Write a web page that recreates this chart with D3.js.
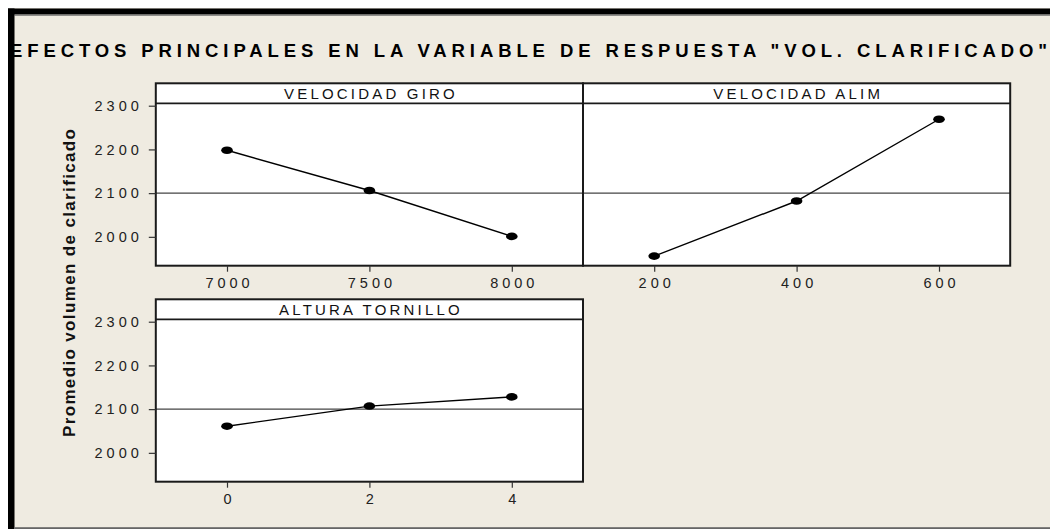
<!DOCTYPE html>
<html><head><meta charset="utf-8">
<script src="https://cdn.jsdelivr.net/npm/d3@7"></script>
<style>
html,body{margin:0;padding:0;background:#fff;}
svg{display:block;}
</style></head>
<body>
<svg id="chart" width="1050" height="529"></svg>
<script>
// ---------- DATA ----------
const chartTitle = 'EFECTOS PRINCIPALES EN LA VARIABLE DE RESPUESTA "VOL. CLARIFICADO"';
const yLabel = "Promedio volumen de clarificado";
const factorNames = ["VELOCIDAD GIRO", "VELOCIDAD ALIM", "ALTURA TORNILLO"];
const levelsGiro = [7000, 7500, 8000];
const meansGiro = [2198, 2106, 2001];
const levelsAlim = [200, 400, 600];
const meansAlim = [1956, 2082, 2269];
const levelsAltura = [0, 2, 4];
const meansAltura = [2061, 2107, 2128];
const xDomains = [[6750, 8250], [100, 700], [-1, 5]];
const yTicks = [2000, 2100, 2200, 2300];
const yDomain = [1934, 2305.5];
const grandMean = 2100;

// ---------- LAYOUT ----------
const svg = d3.select("#chart");
const W = 1050, H = 529;
const bg = "#efebe1";
const panelW = 427.2, stripH = 20, plotH = 162.4;
const panels = [
  {x: 155.8, y: 83.3, name: factorNames[0], levels: levelsGiro, means: meansGiro, dom: xDomains[0]},
  {x: 583,   y: 83.3, name: factorNames[1], levels: levelsAlim, means: meansAlim, dom: xDomains[1]},
  {x: 155.8, y: 299.3, name: factorNames[2], levels: levelsAltura, means: meansAltura, dom: xDomains[2]}
];

svg.append("rect").attr("width", W).attr("height", H).attr("fill", "#fff");
svg.append("rect").attr("x", 8).attr("y", 8).attr("width", W - 8).attr("height", H - 8).attr("fill", bg);
// frame
svg.append("rect").attr("x", 8).attr("y", 8.5).attr("width", W - 8).attr("height", 6).attr("fill", "#000");
svg.append("rect").attr("x", 14.5).attr("y", 14.5).attr("width", W - 14.5).attr("height", 1.2).attr("fill", "#666");
svg.append("rect").attr("x", 8).attr("y", 8.5).attr("width", 6.5).attr("height", H - 8.5).attr("fill", "#000");
svg.append("rect").attr("x", 14.5).attr("y", 527.2).attr("width", W - 14.5).attr("height", 1.8).attr("fill", "#666");

// title
svg.append("text")
  .attr("x", 10).attr("y", 57)
  .attr("font-family", "'Liberation Sans', Arial, sans-serif")
  .attr("font-weight", "bold").attr("font-size", 18.5)
  .attr("textLength", 1037).attr("lengthAdjust", "spacing")
  .attr("fill", "#000")
  .text(chartTitle);

// y label
svg.append("text")
  .attr("transform", "translate(74.5,283) rotate(-90)")
  .attr("text-anchor", "middle")
  .attr("font-family", "'Liberation Sans', Arial, sans-serif")
  .attr("font-weight", "bold").attr("font-size", 17)
  .attr("textLength", 308).attr("lengthAdjust", "spacing")
  .attr("fill", "#111")
  .text(yLabel);

const tickFont = "'Liberation Sans', Arial, sans-serif";
const tickLS = 4;

panels.forEach((p, i) => {
  const g = svg.append("g").attr("transform", `translate(${p.x},${p.y})`);
  const top = stripH, bottom = stripH + plotH;
  const x = d3.scaleLinear().domain(p.dom).range([0, panelW]);
  const y = d3.scaleLinear().domain(yDomain).range([bottom, top]);

  g.append("rect").attr("x", 0).attr("y", 0).attr("width", panelW).attr("height", bottom).attr("fill", "#fff");

  // grand mean reference line
  g.append("line").attr("x1", 0).attr("x2", panelW)
    .attr("y1", y(grandMean)).attr("y2", y(grandMean))
    .attr("stroke", "#444").attr("stroke-width", 1.3);

  // strip
  g.append("line").attr("x1", 0).attr("x2", panelW).attr("y1", stripH).attr("y2", stripH)
    .attr("stroke", "#1a1a1a").attr("stroke-width", 1.8);
  g.append("text").attr("x", panelW / 2 + 1.6).attr("y", stripH / 2 + 5.5)
    .attr("text-anchor", "middle")
    .attr("font-family", tickFont).attr("font-size", 15)
    .attr("letter-spacing", 3.2).attr("fill", "#111")
    .text(p.name);

  // line + points
  const pts = p.levels.map((l, k) => [l, p.means[k]]);
  g.append("path").datum(pts)
    .attr("d", d3.line().x(d => x(d[0])).y(d => y(d[1])))
    .attr("fill", "none").attr("stroke", "#000").attr("stroke-width", 1.4);
  g.selectAll("ellipse.pt").data(pts).join("ellipse")
    .attr("cx", d => x(d[0])).attr("cy", d => y(d[1]))
    .attr("rx", 5.8).attr("ry", 3.8).attr("fill", "#000");

  // border
  g.append("rect").attr("x", 0).attr("y", 0).attr("width", panelW).attr("height", bottom)
    .attr("fill", "none").attr("stroke", "#1a1a1a").attr("stroke-width", 2);

  // x axis
  const xa = g.append("g").attr("transform", `translate(0,${bottom})`)
    .call(d3.axisBottom(x).tickValues(p.levels).tickSize(6).tickPadding(6.5).tickFormat(d3.format("d")));
  xa.select(".domain").remove();
  xa.selectAll("line").attr("stroke", "#333").attr("stroke-width", 1.2);
  xa.selectAll("text").attr("font-family", tickFont).attr("font-size", 14.5)
    .attr("letter-spacing", tickLS).attr("dx", tickLS / 2).attr("fill", "#222");

  // y axis (left column only)
  if (p.x < 300) {
    const ya = g.append("g")
      .call(d3.axisLeft(y).tickValues(yTicks).tickSize(7).tickPadding(10 - tickLS).tickFormat(d3.format("d")));
    ya.select(".domain").remove();
    ya.selectAll("line").attr("stroke", "#333").attr("stroke-width", 1.2);
    ya.selectAll("text").attr("font-family", tickFont).attr("font-size", 14.5)
      .attr("letter-spacing", tickLS).attr("fill", "#222");
  }
});
</script>
</body></html>
